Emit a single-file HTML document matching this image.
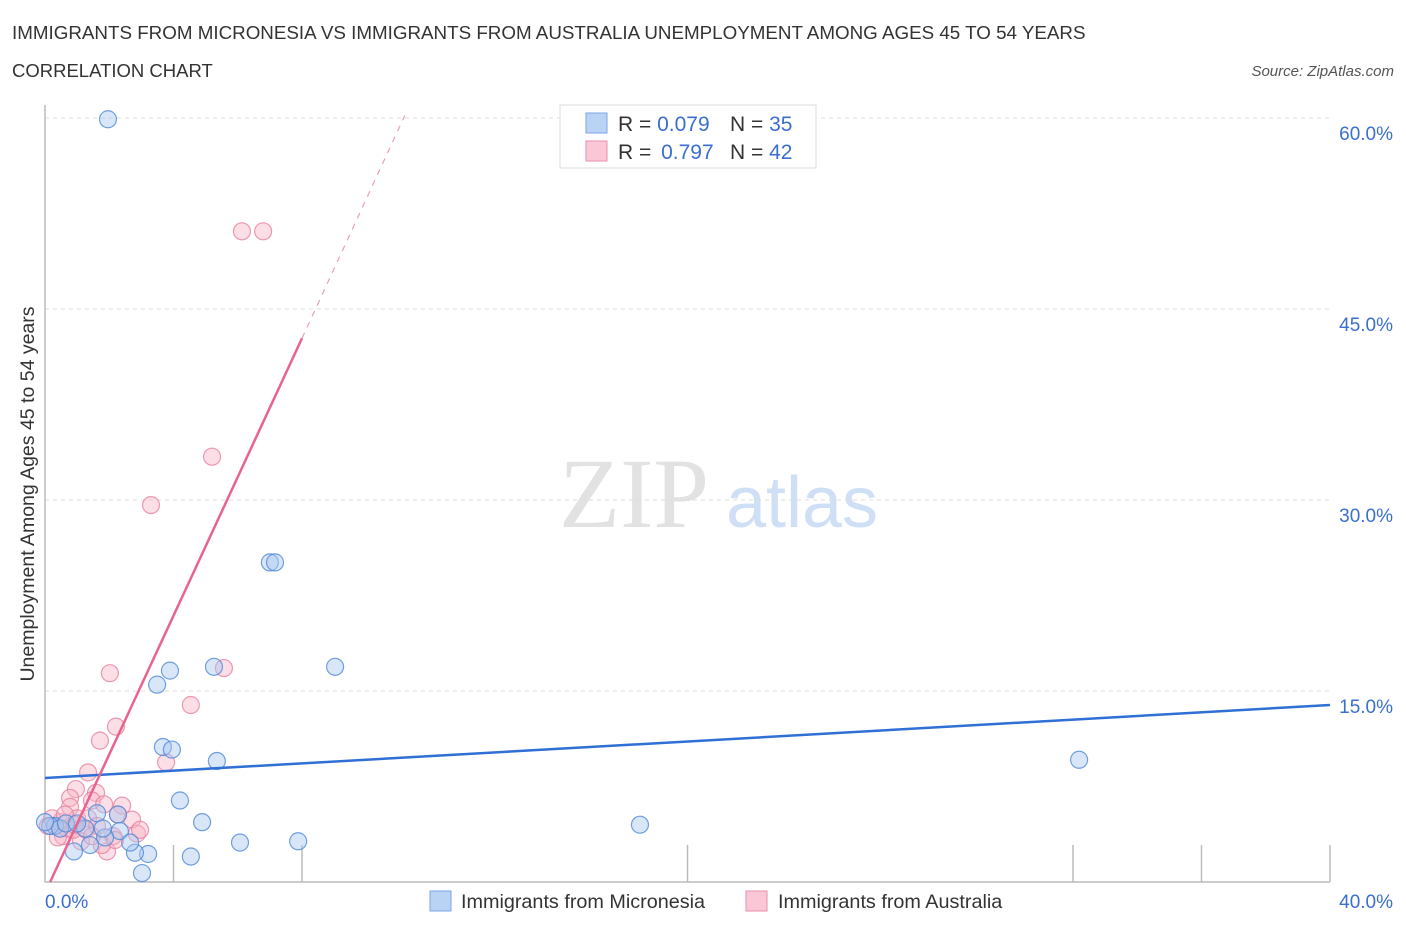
<!DOCTYPE html>
<html><head><meta charset="utf-8"><style>
body{margin:0;background:#fff;font-family:"Liberation Sans",sans-serif;}
svg{display:block}
</style></head><body>
<svg id="chart" width="1406" height="930" xmlns="http://www.w3.org/2000/svg">
<text x="12" y="39" font-size="18.8" fill="#333">IMMIGRANTS FROM MICRONESIA VS IMMIGRANTS FROM AUSTRALIA UNEMPLOYMENT AMONG AGES 45 TO 54 YEARS</text>
<text x="12" y="77" font-size="18.5" fill="#333">CORRELATION CHART</text>
<text x="1394" y="76" font-size="15" fill="#555" font-style="italic" text-anchor="end">Source: ZipAtlas.com</text>
<text x="634" y="527" font-size="100" fill="#e2e2e2" font-family="Liberation Serif,serif" text-anchor="middle">ZIP</text>
<text x="802" y="527" font-size="72" fill="#cfdff5" text-anchor="middle">atlas</text>
<g id="grid"></g>
<g id="marks"></g>
<g id="lines"></g>
<text transform="translate(34,494) rotate(-90)" font-size="19.5" fill="#333" text-anchor="middle">Unemployment Among Ages 45 to 54 years</text>
<text x="45" y="908" font-size="19" fill="#3a6fd0">0.0%</text>
<text x="1393" y="908" font-size="19" fill="#3a6fd0" text-anchor="end">40.0%</text>
<g>
<rect x="560" y="105" width="256" height="63" fill="#fff" stroke="#ddd"/>
<rect x="586" y="113" width="21" height="20" fill="#b9d3f5" stroke="#7aa6e6"/>
<rect x="586" y="141" width="21" height="20" fill="#f9c7d5" stroke="#eb8fab"/>
<text x="618" y="131" font-size="21" fill="#333">R = <tspan fill="#3a6fd0">0.079</tspan><tspan x="730">N = </tspan><tspan fill="#3a6fd0">35</tspan></text>
<text x="618" y="159" font-size="21" fill="#333">R = <tspan fill="#3a6fd0" dx="4">0.797</tspan><tspan x="730">N = </tspan><tspan fill="#3a6fd0">42</tspan></text>
</g>
<g>
<rect x="430" y="891" width="21" height="20" fill="#b9d3f5" stroke="#7aa6e6"/>
<text x="461" y="908" font-size="19.8" fill="#333">Immigrants from Micronesia</text>
<rect x="746" y="891" width="21" height="20" fill="#f9c7d5" stroke="#eb8fab"/>
<text x="778" y="908" font-size="19.8" fill="#333">Immigrants from Australia</text>
</g>
</svg>
<script>
const yTicks=[15,30,45,60];
const yTickLabels=["15.0%","30.0%","45.0%","60.0%"];
const xTicksShown=[4,8,20,32,36,40];
const microX=[1.96,7.0,7.16,9.03,5.26,3.89,3.49,3.67,3.95,5.35,4.2,4.89,32.19,18.52,6.07,7.88,4.54,3.21,2.8,3.02,2.27,1.62,0.9,1.4,2.33,2.65,1.87,1.8,1.25,0.31,0.16,0.47,0.65,1.0,0.0];
const microY=[59.9,25.1,25.1,16.9,16.9,16.6,15.5,10.6,10.4,9.5,6.4,4.7,9.6,4.5,3.1,3.2,2.0,2.2,2.3,0.7,5.3,5.4,2.4,2.9,4.0,3.1,3.5,4.2,4.2,4.4,4.4,4.2,4.6,4.6,4.7];
const ausX=[6.13,6.79,5.2,3.3,2.02,4.54,5.57,3.77,2.21,1.71,1.34,0.96,0.78,1.59,1.46,0.78,2.4,1.84,2.71,2.27,1.0,1.34,2.86,1.93,2.12,1.12,0.56,0.31,0.09,0.47,0.68,0.87,1.28,1.62,0.93,1.77,0.4,0.22,0.62,1.46,2.96,2.18];
const ausY=[51.1,51.1,33.4,29.6,16.4,13.9,16.8,9.4,12.2,11.1,8.6,7.3,6.6,7.0,6.4,5.9,6.0,6.1,4.9,5.3,5.0,5.0,3.8,2.4,3.6,3.2,3.6,4.4,4.4,4.7,4.2,4.1,4.1,4.4,4.5,2.9,3.5,5.0,5.3,3.6,4.1,3.3];
const microTrend=[[0,8.17],[40,13.9]];
const ausTrend=[[0.16,0],[8.0,42.7]];
const ausTrendExt=[[8.0,42.7],[11.2,60.2]];
const NS="http://www.w3.org/2000/svg";
const sx=v=>45+v/40*1285, sy=v=>882-v/15*191;
function mk(tag,attrs,parent){const e=document.createElementNS(NS,tag);for(const k in attrs)e.setAttribute(k,attrs[k]);parent.appendChild(e);return e;}
const grid=document.getElementById('grid'),marks=document.getElementById('marks'),lines=document.getElementById('lines');
yTicks.forEach((t,i)=>{
 const l=mk('line',{x1:45,x2:1330,y1:sy(t),y2:sy(t),stroke:'#ddd','stroke-dasharray':'4,4'},grid);
 
 
 const tx=mk('text',{x:1393,y:sy(t)+22,'font-size':19,fill:'#3a6fd0','text-anchor':'end'},grid);
 tx.textContent=yTickLabels[i];
 
 
});
const ax=mk('path',{d:'M45 105 V882 H1330',fill:'none',stroke:'#bbb','stroke-width':1.5},grid);


xTicksShown.forEach(t=>{
 const l=mk('line',{x1:sx(t),x2:sx(t),y1:845,y2:882,stroke:'#bbb','stroke-width':1.5},grid);
 
 
});
function pts(X,Y,fill,stroke,name){X.forEach((x,i)=>{
 const c=mk('circle',{cx:sx(x),cy:sy(Y[i]),r:8.5,fill:fill,'fill-opacity':0.45,stroke:stroke,'stroke-opacity':0.8,'stroke-width':1.2},marks);
 
 
});}
pts(ausX,ausY,'#f7b6c8','#e9829f','point-australia');
pts(microX,microY,'#a9c8f0','#4f8ad8','point-micronesia');
function ln(p,stroke,w,dash,name){
 const l=mk('line',{x1:sx(p[0][0]),y1:sy(p[0][1]),x2:sx(p[1][0]),y2:sy(p[1][1]),stroke:stroke,'stroke-width':w},lines);
 if(dash)l.setAttribute('stroke-dasharray',dash);
 
 
}
ln(microTrend,'#2f6fd6',2.5,null,'trend-micronesia');
ln(ausTrend,'#e8648f',2.5,null,'trend-australia');
ln(ausTrendExt,'#e8a0b8',1.2,'6,6','trend-australia-extension');
</script>
</body></html>
